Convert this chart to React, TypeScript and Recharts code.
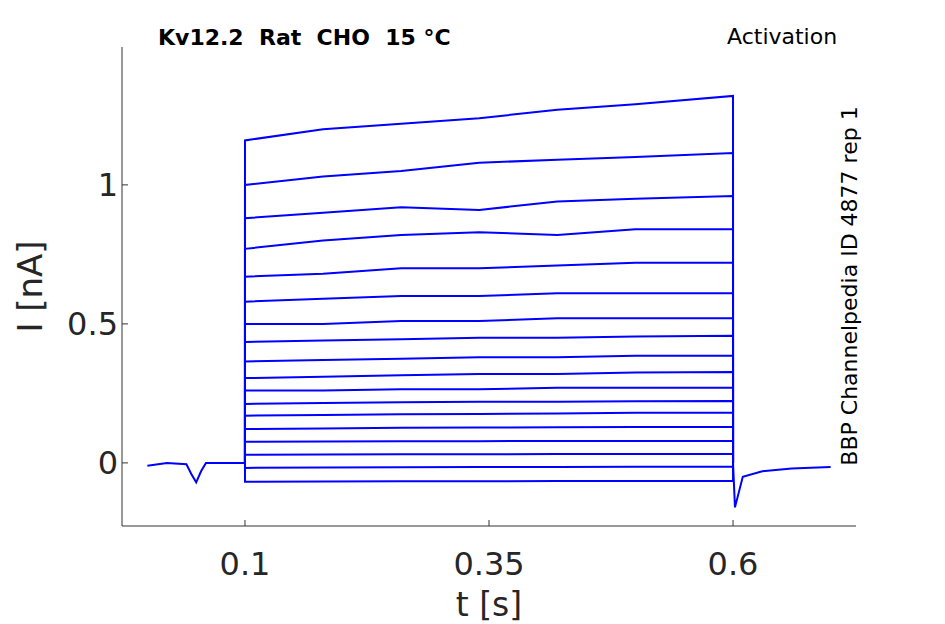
import React from "react";
import { LineChart, Line, XAxis, YAxis } from "recharts";

const stepTimes = [0.1, 0.18, 0.26, 0.34, 0.42, 0.5, 0.6];

const sweeps: number[][] = [
  [1.16, 1.2, 1.22, 1.24, 1.27, 1.29, 1.32],
  [1.0, 1.03, 1.05, 1.08, 1.09, 1.1, 1.115],
  [0.88, 0.9, 0.92, 0.91, 0.94, 0.95, 0.96],
  [0.77, 0.8, 0.82, 0.83, 0.82, 0.84, 0.84],
  [0.67, 0.68, 0.7, 0.7, 0.71, 0.72, 0.72],
  [0.58, 0.59, 0.6, 0.6, 0.61, 0.61, 0.61],
  [0.5, 0.5, 0.51, 0.51, 0.52, 0.52, 0.52],
  [0.435, 0.44, 0.445, 0.45, 0.45, 0.455, 0.457],
  [0.365, 0.37, 0.375, 0.38, 0.38, 0.385, 0.385],
  [0.305, 0.31, 0.315, 0.32, 0.32, 0.325, 0.327],
  [0.26, 0.26, 0.265, 0.265, 0.27, 0.27, 0.27],
  [0.212, 0.215, 0.218, 0.22, 0.22, 0.222, 0.223],
  [0.17, 0.172, 0.175, 0.176, 0.178, 0.18, 0.18],
  [0.122, 0.124, 0.126, 0.127, 0.128, 0.129, 0.129],
  [0.076, 0.077, 0.078, 0.078, 0.079, 0.079, 0.079],
  [0.029, 0.03, 0.031, 0.031, 0.032, 0.032, 0.032],
  [-0.018, -0.017, -0.016, -0.015, -0.015, -0.014, -0.014],
  [-0.068, -0.067, -0.066, -0.066, -0.065, -0.065, -0.065],
];

const baseTimes = [0, 0.02, 0.04, 0.045, 0.05, 0.055, 0.06, 0.08, 0.1];
const baseValues = [-0.01, 0, -0.005, -0.04, -0.07, -0.03, 0, 0, 0];
const tailTimes = [0.6, 0.602, 0.61, 0.63, 0.66, 0.7];
const tailValues = [0, -0.16, -0.05, -0.03, -0.02, -0.015];

const xTicks = [0.1, 0.35, 0.6];
const yTicks = [0, 0.5, 1];

const blue = "#0000ff";
const axisColor = "#333";
const font = "DejaVu Sans, sans-serif";

const baseData = baseTimes.map((t, i) => ({ t, v: baseValues[i] }));
const tailData = tailTimes.map((t, i) => ({ t, v: tailValues[i] }));
const sweepData = sweeps.map((vals) => [
  { t: 0.1, v: 0 },
  ...stepTimes.map((t, i) => ({ t, v: vals[i] })),
  { t: 0.6, v: 0 },
]);

export default function App() {
  return (
    <div style={{ position: "absolute", left: 0, top: 0, width: 945, height: 624, background: "#fff", fontFamily: font }}>
      <LineChart width={945} height={624} margin={{ top: 47, right: 89, left: 42, bottom: 38 }}>
        <XAxis
          dataKey="t"
          type="number"
          domain={[-0.026, 0.726]}
          ticks={xTicks}
          allowDuplicatedCategory={false}
          height={60}
          stroke={axisColor}
          tickSize={-6}
          tick={{ fill: "#262626", fontSize: 32, dy: 30, fontFamily: font }}
          label={{ value: "t [s]", position: "insideBottom", offset: -30, fill: "#262626", fontSize: 33, fontFamily: font }}
        />
        <YAxis
          dataKey="v"
          type="number"
          domain={[-0.227, 1.496]}
          ticks={yTicks}
          width={80}
          stroke={axisColor}
          tickSize={-6}
          tick={{ fill: "#262626", fontSize: 32, dx: -8, fontFamily: font }}
          label={{ value: "I [nA]", angle: -90, position: "insideLeft", offset: -12, fill: "#262626", fontSize: 34, fontFamily: font, style: { textAnchor: "middle" } }}
        />
        <Line data={baseData} dataKey="v" stroke={blue} strokeWidth={2} dot={false} isAnimationActive={false} type="linear" />
        <Line data={tailData} dataKey="v" stroke={blue} strokeWidth={2} dot={false} isAnimationActive={false} type="linear" />
        {sweepData.map((d, i) => (
          <Line key={i} data={d} dataKey="v" stroke={blue} strokeWidth={2} dot={false} isAnimationActive={false} type="linear" />
        ))}
      </LineChart>
      <div style={{ position: "absolute", left: 158, top: 25, fontSize: 22, fontWeight: "bold", whiteSpace: "pre" }}>Kv12.2  Rat  CHO  15 °C</div>
      <div style={{ position: "absolute", left: 727, top: 24, fontSize: 22 }}>Activation</div>
      <div
        style={{
          position: "absolute",
          left: 849,
          top: 286,
          fontSize: 22,
          whiteSpace: "nowrap",
          transform: "translate(-50%, -50%) rotate(-90deg)",
        }}
      >
        BBP Channelpedia ID 4877 rep 1
      </div>
    </div>
  );
}
